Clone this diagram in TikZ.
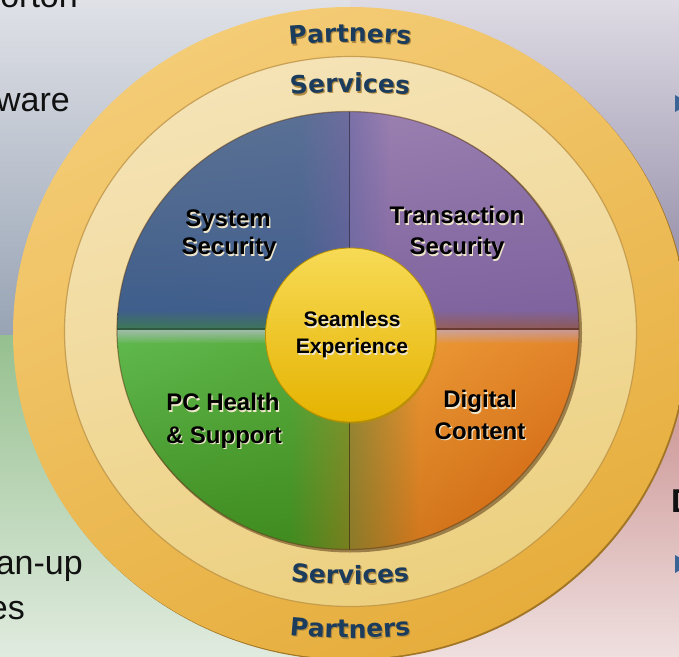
\documentclass[tikz,border=0pt]{standalone}
\usepackage{fontspec}
\setmainfont{Liberation Sans}
\newfontfamily\ringfont{DejaVu Sans}
\usetikzlibrary{decorations.text,shadings}
\definecolor{bgTLtop}{HTML}{DFE1E7}
\definecolor{bgTLbot}{HTML}{97A3B4}
\definecolor{bgTRtop}{HTML}{DEDBE4}
\definecolor{bgTRbot}{HTML}{857E9C}
\definecolor{bgBLtop}{HTML}{96C08F}
\definecolor{bgBLbot}{HTML}{E0EBDF}
\definecolor{bgBRtop}{HTML}{C38482}
\definecolor{bgBRbot}{HTML}{EFDFDF}
\definecolor{gold1}{HTML}{F4CC76}
\definecolor{gold2}{HTML}{E6AD3C}
\definecolor{goldedge}{HTML}{A27624}
\definecolor{serv1}{HTML}{F5E3B6}
\definecolor{serv2}{HTML}{ECD07F}
\definecolor{servedge}{HTML}{BE9446}
% top-left quadrant grid
\definecolor{tlA1}{HTML}{5E7392}\definecolor{tlA2}{HTML}{5A7095}\definecolor{tlA3}{HTML}{6E6C9E}
\definecolor{tlB1}{HTML}{3F5E8B}\definecolor{tlB2}{HTML}{415E8D}\definecolor{tlB3}{HTML}{5A5E96}
\definecolor{tlC1}{HTML}{3D7A52}\definecolor{tlC2}{HTML}{3F7458}\definecolor{tlC3}{HTML}{4F6A70}
% top-right quadrant grid
\definecolor{trA1}{HTML}{7A70A8}\definecolor{trA2}{HTML}{9A7FB0}\definecolor{trA3}{HTML}{957AAD}
\definecolor{trB1}{HTML}{6E68A0}\definecolor{trB2}{HTML}{80659F}\definecolor{trB3}{HTML}{7E639F}
\definecolor{trC1}{HTML}{7A5F70}\definecolor{trC2}{HTML}{985F55}\definecolor{trC3}{HTML}{8E5850}
% bottom-left quadrant grid
\definecolor{blA1}{HTML}{9FBCA8}\definecolor{blA2}{HTML}{9FBCA8}\definecolor{blA3}{HTML}{A0B090}
\definecolor{blB1}{HTML}{5FB84D}\definecolor{blB2}{HTML}{58AC3E}\definecolor{blB3}{HTML}{7E9A30}
\definecolor{blC1}{HTML}{3E8C22}\definecolor{blC2}{HTML}{3F8A1E}\definecolor{blC3}{HTML}{787E1E}
% bottom-right quadrant grid
\definecolor{brA1}{HTML}{B8A08A}\definecolor{brA2}{HTML}{CDA39B}\definecolor{brA3}{HTML}{C99890}
\definecolor{brB1}{HTML}{9A8A38}\definecolor{brB2}{HTML}{EA9733}\definecolor{brB3}{HTML}{E2832A}
\definecolor{brC1}{HTML}{8A7A28}\definecolor{brC2}{HTML}{D2751C}\definecolor{brC3}{HTML}{CC5C08}
\definecolor{divL}{HTML}{2F5A40}
\definecolor{divR}{HTML}{6A3A30}
\definecolor{innerdark}{HTML}{5A3A16}
\definecolor{yel1}{HTML}{F7DA55}
\definecolor{yel2}{HTML}{E5B300}
\definecolor{yeledge}{HTML}{B89000}
\definecolor{navy}{HTML}{1B3C5C}
\definecolor{ringsh}{HTML}{B08A40}
\definecolor{glowc}{HTML}{EFE6CC}
\definecolor{bgtxt}{HTML}{111111}
\definecolor{bulletc}{HTML}{3A6496}
\newcommand\ringstyle{\ringfont\bfseries\fontsize{25}{25}\selectfont}
\newcommand\glowlabel[4]{%
  \node[#2, text=glowc, xshift=1.2pt, yshift=-1.2pt] (#1g) at (#3) {#4};
  \node[#2] (#1) at (#3) {#4};}
% bilinear patch: x1 y1 x2 y2 UL UR LL LR
\newcommand\bpatch[8]{\shade[upper left=#5, upper right=#6, lower left=#7, lower right=#8] (#1,#2) rectangle (#3,#4);}
\begin{document}
\begin{tikzpicture}[x=1pt,y=1pt,
  quadlabel/.style={font=\fontsize{24}{24}\selectfont\bfseries, text=black, inner sep=0pt, anchor=base},
  centerlabel/.style={font=\fontsize{21}{21}\selectfont\bfseries, text=black, inner sep=0pt, anchor=base},
  bgtext/.style={font=\fontsize{34}{34}\selectfont, text=bgtxt, inner sep=0pt, anchor=base east},
  ringtxt/.style={decorate, decoration={text along path, text align=center, text color=navy, text={|\ringstyle|#1}}},
  ringshadow/.style={decorate, decoration={text along path, text align=center, text color=ringsh, text={|\ringstyle|#1}}},
]
\clip (0,0) rectangle (679,656);
% background quadrants
\shade[top color=bgTLtop, bottom color=bgTLbot] (0,320) rectangle (350,656);
\shade[top color=bgTRtop, bottom color=bgTRbot] (350,320) rectangle (679,656);
\shade[top color=bgBLtop, bottom color=bgBLbot] (0,0) rectangle (350,320);
\shade[top color=bgBRtop, bottom color=bgBRbot] (350,0) rectangle (679,320);
% background texts
\node[bgtext] (t1) at (78,648) {orton};
\node[bgtext] (t2) at (70,544) {ware};
\node[bgtext] (t3) at (83,82) {an-up};
\node[bgtext] (t4) at (25,37) {es};
\node[bgtext, font=\fontsize{33}{33}\selectfont\bfseries, anchor=base west] (t5) at (671,144) {D};
\fill[bulletc] (675,561) -- (690,552.5) -- (675,544) -- cycle;
\fill[bulletc] (675,101) -- (690,92) -- (675,83) -- cycle;
% outer ring (Partners)
\fill[goldedge] (351.5,321.5) ellipse [x radius=337, y radius=326];
\shade[top color=gold1, bottom color=gold2, shading angle=25] (350,323) ellipse [x radius=337, y radius=326];
% services ring
\shade[top color=serv1, bottom color=serv2, shading angle=15] (350.5,324.5) ellipse [x radius=286, y radius=275];
\draw[servedge, line width=1.2pt, opacity=.8] (350.5,324.5) ellipse [x radius=286, y radius=275];
% inner disc shadow
\fill[innerdark, opacity=.55] (350,323.5) ellipse [x radius=232, y radius=220];
% quadrants
\begin{scope}
\clip (348,325.5) ellipse [x radius=231, y radius=219];
% top-left
\bpatch{116}{346}{300}{546}{tlA1}{tlA2}{tlB1}{tlB2}
\bpatch{300}{346}{349}{546}{tlA2}{tlA3}{tlB2}{tlB3}
\bpatch{116}{326}{300}{346}{tlB1}{tlB2}{tlC1}{tlC2}
\bpatch{300}{326}{349}{346}{tlB2}{tlB3}{tlC2}{tlC3}
% top-right
\bpatch{349}{346}{390}{546}{trA1}{trA2}{trB1}{trB2}
\bpatch{390}{346}{580}{546}{trA2}{trA3}{trB2}{trB3}
\bpatch{349}{326}{390}{346}{trB1}{trB2}{trC1}{trC2}
\bpatch{390}{326}{580}{346}{trB2}{trB3}{trC2}{trC3}
% bottom-left
\bpatch{116}{312}{290}{326}{blA1}{blA2}{blB1}{blB2}
\bpatch{290}{312}{349}{326}{blA2}{blA3}{blB2}{blB3}
\bpatch{116}{105}{290}{312}{blB1}{blB2}{blC1}{blC2}
\bpatch{290}{105}{349}{312}{blB2}{blB3}{blC2}{blC3}
% bottom-right
\bpatch{349}{312}{420}{326}{brA1}{brA2}{brB1}{brB2}
\bpatch{420}{312}{580}{326}{brA2}{brA3}{brB2}{brB3}
\bpatch{349}{105}{420}{312}{brB1}{brB2}{brC1}{brC2}
\bpatch{420}{105}{580}{312}{brB2}{brB3}{brC2}{brC3}
% dividers
\draw[divL, line width=2pt] (116,326.5) -- (349,326.5);
\draw[divR, line width=2pt] (349,326.5) -- (580,326.5);
\draw[black, opacity=.45, line width=1pt] (349,105) -- (349,546);
\end{scope}
\draw[innerdark, opacity=.5, line width=1.2pt] (348,325.5) ellipse [x radius=231, y radius=219];
% center circle
\fill[yeledge, opacity=.7] (352,319.5) ellipse [x radius=85, y radius=87];
\shade[top color=yel1, bottom color=yel2] (350.5,321) ellipse [x radius=85, y radius=87];
\draw[yeledge, line width=.8pt] (350.5,321) ellipse [x radius=85, y radius=87];
% ring texts
\path[ringshadow=Partners, shift={(1.2,-1.2)}] (350,14) ++(100:600) arc [start angle=100, end angle=80, radius=600];
\path[ringtxt=Partners] (350,14) ++(100:600) arc [start angle=100, end angle=80, radius=600];
\path[ringshadow=Services, shift={(1.2,-1.2)}] (350,-36) ++(100:600) arc [start angle=100, end angle=80, radius=600];
\path[ringtxt=Services] (350,-36) ++(100:600) arc [start angle=100, end angle=80, radius=600];
\path[ringshadow=Services, shift={(1.2,-1.2)}] (350,672) ++(260:600) arc [start angle=260, end angle=280, radius=600];
\path[ringtxt=Services] (350,672) ++(260:600) arc [start angle=260, end angle=280, radius=600];
\path[ringshadow=Partners, shift={(1.2,-1.2)}] (350,618) ++(260:600) arc [start angle=260, end angle=280, radius=600];
\path[ringtxt=Partners] (350,618) ++(260:600) arc [start angle=260, end angle=280, radius=600];
% quadrant labels
\glowlabel{sys1}{quadlabel}{228,429}{System}
\glowlabel{sys2}{quadlabel}{229,401}{Security}
\glowlabel{tra1}{quadlabel}{457,432}{Transaction}
\glowlabel{tra2}{quadlabel}{457,401}{Security}
\glowlabel{pch1}{quadlabel}{223,245}{PC Health}
\glowlabel{pch2}{quadlabel}{224,213}{\& Support}
\glowlabel{dig1}{quadlabel}{480,248}{Digital}
\glowlabel{dig2}{quadlabel}{480,217}{Content}
\glowlabel{sea1}{centerlabel}{352,329}{Seamless}
\glowlabel{sea2}{centerlabel}{352,302}{Experience}
\end{tikzpicture}
\end{document}
